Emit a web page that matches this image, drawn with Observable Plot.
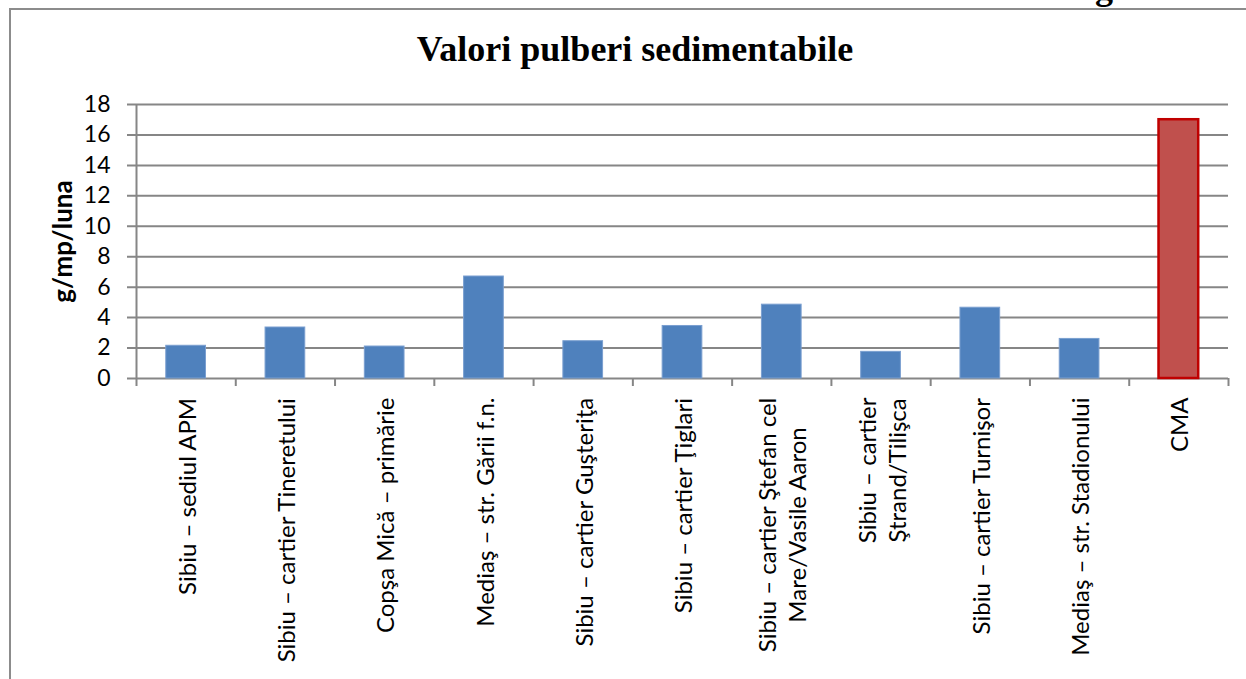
<!DOCTYPE html>
<html>
<head>
<meta charset="utf-8">
<script src="https://cdn.jsdelivr.net/npm/d3@7"></script>
<script src="https://cdn.jsdelivr.net/npm/@observablehq/plot@0.6"></script>
<style>
html,body{margin:0;padding:0;background:#fff;overflow:hidden}
#wrap{position:relative;width:1246px;height:679px;overflow:hidden;background:#fff}
#frame{position:absolute;left:9px;top:8px;right:-10px;bottom:-10px;border-left:2px solid #8c8c8c;border-top:2px solid #8c8c8c}
#title{position:absolute;left:0;top:31px;width:1270px;text-align:center;font:bold 36px "Liberation Serif";line-height:36px;color:#000}
#frag{position:absolute;left:1095px;top:-31px;font:bold 36px "Liberation Serif";line-height:36px;color:#000}
#chart{position:absolute;left:0;top:0}
</style>
</head>
<body>
<div id="wrap">
  <div id="frag">g</div>
  <div id="frame"></div>
  <div id="title">Valori pulberi sedimentabile</div>
  <div id="chart"></div>
</div>
<script>
// ---- data ----
const stations = [
  "Sibiu – sediul APM",
  "Sibiu – cartier Tineretului",
  "Copşa Mică – primărie",
  "Mediaş – str. Gării f.n.",
  "Sibiu – cartier Guşteriţa",
  "Sibiu – cartier Ţiglari",
  "Sibiu – cartier Ştefan cel\nMare/Vasile Aaron",
  "Sibiu – cartier\nŞtrand/Tilişca",
  "Sibiu – cartier Turnişor",
  "Mediaş – str. Stadionului"
];
const values = [2.15, 3.35, 2.1, 6.7, 2.45, 3.45, 4.85, 1.75, 4.65, 2.6];
const limitLabel = "CMA";
const limitValue = 17;
const yTicks = [0, 2, 4, 6, 8, 10, 12, 14, 16, 18];
const yLabel = "g/mp/luna";

// ---- layout ----
const W = 1246, H = 679, mL = 136, mR = 18, mT = 104, mB = 301;
const categories = [...stations, limitLabel];
const step = (W - mL - mR) / categories.length;
const grid = "#868686";
const labelFont = 24, labelFamily = "Lato";

const ctx = document.createElement("canvas").getContext("2d");
ctx.font = `${labelFont}px ${labelFamily}`;
const longest = s => Math.max(...s.split("\n").map(l => ctx.measureText(l).width));

const stationData = stations.map((name, i) => ({name, value: values[i]}));
const limitData = [{name: limitLabel, value: limitValue}];

const labelMarks = categories.map(c => Plot.text([c], {
  x: d => d, text: d => d, frameAnchor: "bottom", rotate: -90,
  textAnchor: "middle", lineAnchor: "middle", lineHeight: 1.25,
  dy: 19 + longest(c) / 2, fontSize: labelFont, fontFamily: labelFamily, fill: "#000"
}));

const chart = Plot.plot({
  width: W, height: H,
  marginLeft: mL, marginRight: mR, marginTop: mT, marginBottom: mB,
  style: {fontFamily: "Lato", color: "#000", background: "transparent", overflow: "visible"},
  x: {type: "band", domain: categories, paddingInner: 0.6, paddingOuter: 0.3, round: false, axis: null},
  y: {domain: [0, 18], axis: null},
  marks: [
    Plot.ruleY(yTicks, {y: d => d, insetLeft: -9, stroke: grid, strokeWidth: 2}),
    Plot.barY(stationData, {x: "name", y: "value", fill: "#4F81BD", stroke: "#7a9fd0", strokeWidth: 1}),
    Plot.barY(limitData, {x: "name", y: "value", fill: "#C0504D", stroke: "#C00000", strokeWidth: 2.5}),
    Plot.ruleX([categories[0]], {x: d => d, dx: -step / 2, insetBottom: -8, stroke: grid, strokeWidth: 2}),
    Plot.ruleX(categories, {x: d => d, dx: step / 2, insetTop: H - mT - mB, insetBottom: -8, stroke: grid, strokeWidth: 2}),
    Plot.axisY(yTicks, {tickSize: 0, tickPadding: 26, fontSize: 23, label: null, fill: "#000"}),
    Plot.text([yLabel], {frameAnchor: "left", text: d => d, rotate: -90, textAnchor: "middle", lineAnchor: "middle", dx: -73, fontWeight: "bold", fontSize: 26, fill: "#000"}),
    ...labelMarks
  ]
});
document.getElementById("chart").appendChild(chart);
</script>
</body>
</html>
